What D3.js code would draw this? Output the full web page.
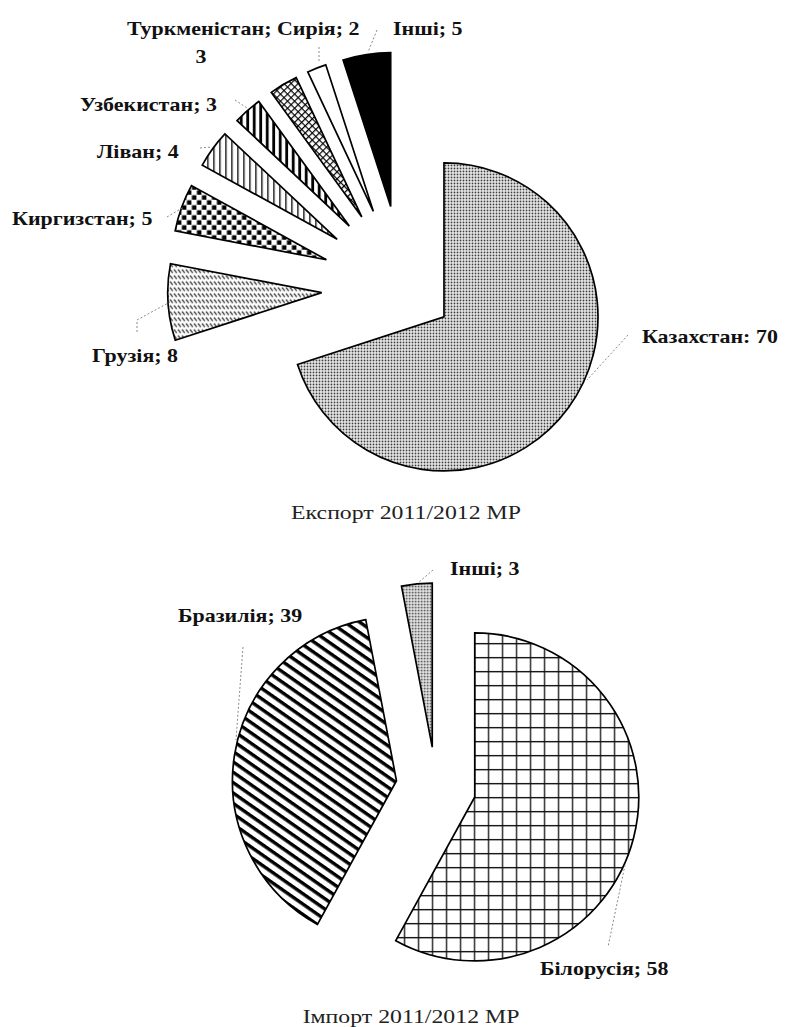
<!DOCTYPE html>
<html>
<head>
<meta charset="utf-8">
<script src="https://cdn.jsdelivr.net/npm/d3@7"></script>
<style>
  html, body { margin: 0; padding: 0; background: #fff; }
  svg { display: block; }
</style>
</head>
<body>
<svg id="chart" width="786" height="1027"></svg>
<script>
// ---------------- data ----------------
const exportCategories = ["Казахстан", "Грузія", "Киргизстан", "Ліван", "Узбекистан", "Туркменістан", "Сирія", "Інші"];
const exportValues = [70, 8, 5, 4, 3, 3, 2, 5];
const exportSeparators = [":", ";", ";", ";", ";", ";", ";", ";"];
const exportTitle = "Експорт 2011/2012 МР";

const importCategories = ["Білорусія", "Бразилія", "Інші"];
const importValues = [58, 39, 3];
const importSeparators = [";", ";", ";"];
const importTitle = "Імпорт 2011/2012 МР";

// ---------------- layout / style ----------------
const exportLayout = {
  cx: 403.5, cy: 287.5, r: 154,
  explode: [0.325, 0.532, 0.532, 0.532, 0.532, 0.532, 0.532, 0.532],
  fills: ["url(#dots)", "url(#smallHatch)", "url(#checker)", "url(#vlines)", "url(#thickV)", "url(#crossDiag)", "#fff", "#000"],
  labels: [
    { x: 642, y: 343 }, { x: 92, y: 362 }, { x: 12, y: 225 }, { x: 97, y: 158 },
    { x: 80, y: 111 }, { x: 127, y: 35, wrap: true, x2: 201, y2: 63 }, { x: 277, y: 35 }, { x: 393, y: 35 }
  ],
  leaders: [
    [[628, 335], [587, 380]],
    [[137, 332], [137, 320], [170, 302]],
    [[167, 217], [182, 208]],
    [[200, 148], [212, 147]],
    [[235, 100], [247, 108]],
    null,
    [[319, 47], [319, 63]],
    [[377, 30], [368, 52]]
  ],
  title: { x: 406, y: 519 }
};

const importLayout = {
  cx: 436, cy: 787, r: 164,
  explode: [0.244, 0.244, 0.244],
  fills: ["url(#grid)", "url(#wideDiag)", "url(#dots2)"],
  labels: [{ x: 540, y: 975 }, { x: 178, y: 622 }, { x: 450, y: 575 }],
  leaders: [
    [[625, 865], [608, 947]],
    [[243, 647], [236, 740]],
    [[433, 570], [418, 583]]
  ],
  title: { x: 411, y: 1023 }
};

const textScaleX = 1.22;

const svg = d3.select("#chart");
const defs = svg.append("defs");

// ---------------- patterns ----------------
function pat(id, w, h, transform) {
  const p = defs.append("pattern").attr("id", id)
    .attr("patternUnits", "userSpaceOnUse").attr("width", w).attr("height", h);
  if (transform) p.attr("patternTransform", transform);
  p.append("rect").attr("width", w).attr("height", h).attr("fill", "#fff");
  return p;
}
// fine dots (Казахстан)
{
  const p = pat("dots", 3, 3);
  p.append("rect").attr("x", 0.6).attr("y", 0.6).attr("width", 1.8).attr("height", 1.8).attr("fill", "#333");
}
// fine dots (Інші, import)
{
  const p = pat("dots2", 3, 3);
  p.append("rect").attr("x", 0.6).attr("y", 0.6).attr("width", 1.8).attr("height", 1.8).attr("fill", "#3a3a3a");
}
// small backslash dashes in rows (Грузія)
{
  const p = pat("smallHatch", 4, 6);
  p.append("line").attr("x1", 0.3).attr("y1", 0.8).attr("x2", 3).attr("y2", 4.3)
    .attr("stroke", "#111").attr("stroke-width", 1.1);
}
// checkerboard (Киргизстан)
{
  const p = pat("checker", 10, 10);
  p.append("rect").attr("x", 0.5).attr("y", 0.5).attr("width", 4.5).attr("height", 4.5).attr("fill", "#000");
  p.append("rect").attr("x", 5.5).attr("y", 5.5).attr("width", 4.5).attr("height", 4.5).attr("fill", "#000");
}
// thin vertical lines (Ліван)
{
  const p = pat("vlines", 6, 6);
  p.append("rect").attr("x", 2).attr("y", 0).attr("width", 1.4).attr("height", 6).attr("fill", "#111");
}
// thick vertical lines (Узбекистан)
{
  const p = pat("thickV", 6.5, 6.5);
  p.append("rect").attr("x", 1).attr("y", 0).attr("width", 2.8).attr("height", 6.5).attr("fill", "#000");
}
// diagonal cross (Туркменістан)
{
  const p = pat("crossDiag", 5, 5, "rotate(45)");
  p.append("rect").attr("x", 0).attr("y", 0).attr("width", 1.2).attr("height", 5).attr("fill", "#000");
  p.append("rect").attr("x", 0).attr("y", 0).attr("width", 5).attr("height", 1.2).attr("fill", "#000");
}
// grid (Білорусія)
{
  const p = pat("grid", 14, 14, "translate(475,0)");
  p.append("rect").attr("x", 0).attr("y", 0).attr("width", 1.4).attr("height", 14).attr("fill", "#222");
  p.append("rect").attr("x", 0).attr("y", 0).attr("width", 14).attr("height", 1.4).attr("fill", "#111");
}
// wide diagonal stripes (Бразилія)
{
  const p = pat("wideDiag", 8.5, 8.5, "rotate(35)");
  p.append("rect").attr("x", 0).attr("y", 0).attr("width", 8.5).attr("height", 3.4).attr("fill", "#000");
}

// ---------------- drawing ----------------
function drawPie(categories, values, seps, layout, title) {
  const pie = d3.pie().sort(null).value(d => d).startAngle(0).endAngle(2 * Math.PI);
  const arcs = pie(values);
  const arc = d3.arc().innerRadius(0).outerRadius(layout.r);

  const g = svg.append("g");
  arcs.forEach((a, i) => {
    const mid = (a.startAngle + a.endAngle) / 2;
    const d = layout.explode[i] * layout.r;
    const tx = layout.cx + d * Math.sin(mid);
    const ty = layout.cy - d * Math.cos(mid);
    g.append("path")
      .attr("transform", `translate(${tx},${ty})`)
      .attr("d", arc(a))
      .attr("fill", layout.fills[i])
      .attr("stroke", "#000")
      .attr("stroke-width", 1.7)
      .attr("stroke-linejoin", "miter");
  });

  // leader lines
  const line = d3.line();
  layout.leaders.forEach(pts => {
    if (!pts) return;
    g.append("path").attr("d", line(pts))
      .attr("fill", "none").attr("stroke", "#8a8a8a")
      .attr("stroke-width", 1).attr("stroke-dasharray", "2,2");
  });

  // labels
  categories.forEach((c, i) => {
    const L = layout.labels[i];
    const txt = `${c}${seps[i]} ${values[i]}`;
    const style = t => t.attr("font-family", "'Liberation Serif', 'Times New Roman', serif")
      .attr("font-weight", "bold").attr("font-size", 18).attr("fill", "#111");
    if (L.wrap) {
      style(g.append("text").attr("transform", `translate(${L.x},${L.y}) scale(${textScaleX},1)`)
        .text(`${c}${seps[i]}`));
      style(g.append("text").attr("transform", `translate(${L.x2},${L.y2}) scale(${textScaleX},1)`)
        .attr("text-anchor", "middle").text(values[i]));
    } else {
      style(g.append("text").attr("transform", `translate(${L.x},${L.y}) scale(${textScaleX},1)`)
        .text(txt));
    }
  });

  // title
  g.append("text")
    .attr("transform", `translate(${layout.title.x},${layout.title.y}) scale(${textScaleX},1)`)
    .attr("text-anchor", "middle")
    .attr("font-family", "'Liberation Serif', 'Times New Roman', serif")
    .attr("font-size", 19.5).attr("fill", "#222")
    .text(title);
}

drawPie(exportCategories, exportValues, exportSeparators, exportLayout, exportTitle);
drawPie(importCategories, importValues, importSeparators, importLayout, importTitle);
</script>
</body>
</html>
